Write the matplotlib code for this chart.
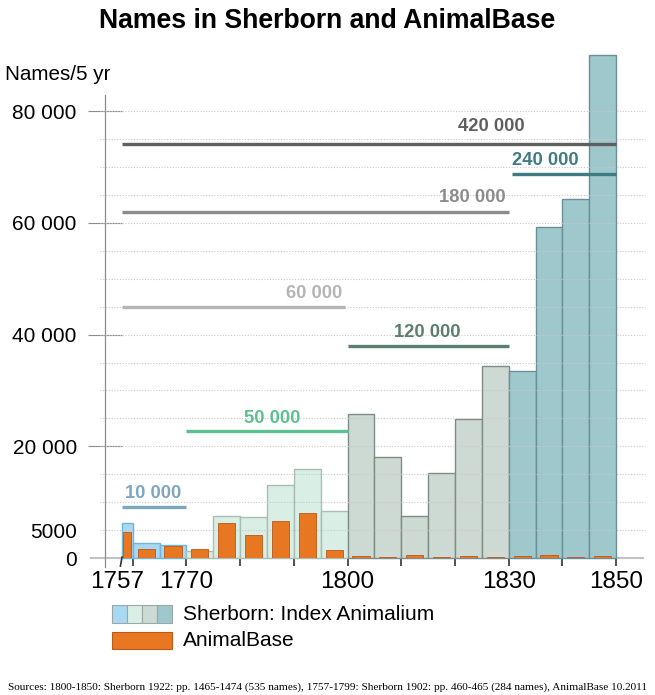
import matplotlib
matplotlib.use("Agg")
import matplotlib.pyplot as plt
import matplotlib.patches as patches

plt.rcParams['font.family'] = ['Liberation Sans', 'DejaVu Sans']

# 5-year bins (first bin is the short 1757 one)
bin_edges = [1758, 1760, 1765, 1770, 1775, 1780, 1785, 1790, 1795, 1800,
             1805, 1810, 1815, 1820, 1825, 1830, 1835, 1840, 1845, 1850]
sherborn = [6200, 2600, 2300, 1300, 7600, 7400, 13100, 16000, 8500,
            25800, 18000, 7600, 15200, 24800, 34400,
            33400, 59300, 64200, 90100]
animalbase = [4600, 1600, 2200, 1700, 6300, 4100, 6600, 8000, 1400,
              300, 250, 450, 250, 300, 250,
              350, 450, 250, 350]

# period colouring of Sherborn bars
period_start = [1757, 1770, 1800, 1830]
period_fill = ['#a8d8f2', '#d9efe5', '#cdd9d3', '#9fc8cd']
period_edge = ['#72b3d8', '#a9bdb3', '#7e8c87', '#6a8f94']

# totals per period, drawn as horizontal bars
tot_labels = ['10 000', '50 000', '60 000', '120 000', '180 000', '240 000', '420 000']
tot_values = [9100, 22700, 44900, 38000, 61900, 68800, 74100]
tot_from = [1758, 1770, 1758, 1800, 1758, 1830.7, 1758]
tot_to = [1770, 1800, 1799.5, 1830, 1830, 1850, 1850]
tot_colors = ['#7ea6c0', '#5cc08f', '#b4b4b4', '#5b7f6c', '#8c8c8c', '#3f7b82', '#5f5f5f']
# label placement (layout only)
tot_label_x = [1763.8, 1785.9, 1793.7, 1814.8, 1823.2, 1836.9, 1826.7]
tot_label_dy = [10, 9.5, 10, 9.5, 11, 9.5, 13]

yticks = [0, 5000, 20000, 40000, 60000, 80000]
ytick_labels = ['0', '5000', '20 000', '40 000', '60 000', '80 000']
xticks = [1757, 1760, 1770, 1780, 1790, 1800, 1810, 1820, 1830, 1840, 1850]
xtick_labels = ['1757', '', '1770', '', '', '1800', '', '', '1830', '', '1850']

W, H = 655, 695
fig = plt.figure(figsize=(W / 100, H / 100), dpi=100)
ax = fig.add_axes([105 / W, (H - 558) / H, 540 / W, (558 - 95) / H])
ax.set_xlim(1754.83, 1855.38)
ax.set_ylim(0, 82900)
for s in ax.spines.values():
    s.set_visible(False)

# grid
grid_vals = list(range(5000, 80001, 5000))
ax.hlines(grid_vals, 1753.9, 1855.3, colors='#c8c8c8', linestyles=(0, (1, 1.5)),
          linewidth=0.8, zorder=3, clip_on=False)

# Sherborn bars
lefts = bin_edges[:-1]
widths = [b - a for a, b in zip(bin_edges[:-1], bin_edges[1:])]
fills, edges = [], []
for x in lefts:
    k = max(i for i, p in enumerate(period_start) if x >= p)
    fills.append(period_fill[k])
    edges.append(period_edge[k])
ax.bar(lefts, sherborn, width=widths, align='edge', color=fills,
       edgecolor=edges, linewidth=1.0, zorder=2, clip_on=False)

# AnimalBase bars
centers = [a + w / 2 for a, w in zip(lefts, widths)]
ab_w = [min(3.2, w * 0.75) for w in widths]
ax.bar(centers, animalbase, width=ab_w, color='#e87722', edgecolor='#b9591a',
       linewidth=0.6, zorder=4)

# period totals
for lab, v, x0, x1, c, lx, dy in zip(tot_labels, tot_values, tot_from, tot_to,
                                      tot_colors, tot_label_x, tot_label_dy):
    ax.plot([x0, x1], [v, v], color=c, lw=2.4, solid_capstyle='butt', zorder=5,
            clip_on=False)
    ax.annotate(lab, (lx, v), xytext=(0, dy), textcoords='offset points',
                ha='center', va='center', color=c, fontsize=13.2,
                fontweight='bold', zorder=6)

# axes lines
ax.plot([1752.2, 1855.0], [0, 0], color='#c2c2c2', lw=1.5, zorder=1, clip_on=False)
ax.axvline(ax.get_xlim()[0], ymin=-0.02, ymax=1, color='#8c8c8c', lw=0.9,
           clip_on=False, zorder=1)
ax.plot([1757.7, 1758.0], [-1450, 150], color='#333333', lw=1.2, clip_on=False)

ax.set_yticks(yticks)
ax.set_yticklabels(ytick_labels)
ax.tick_params(axis='y', direction='inout', length=24.5, width=0.8,
               color='#8c8c8c', labelsize=15, pad=8)
for t in ax.yaxis.get_major_ticks()[:2]:
    t.tick1line.set_visible(False)

ax.set_xticks(xticks)
ax.set_xticklabels(xtick_labels)
ax.tick_params(axis='x', direction='out', length=5.8, width=1.2,
               color='#333333', labelsize=17.5, pad=3.5)
ax.xaxis.get_major_ticks()[0].tick1line.set_visible(False)

# texts
fig.text(0.5, 1 - 21 / H, 'Names in Sherborn and AnimalBase', ha='center',
         va='center', fontsize=19.2, fontweight='bold')
fig.text(5 / W, 1 - 75 / H, 'Names/5 yr', ha='left', va='center', fontsize=14.9)
fig.text(0.5, 1 - 687 / H,
         'Sources: 1800-1850: Sherborn 1922: pp. 1465-1474 (535 names), '
         '1757-1799: Sherborn 1902: pp. 460-465 (284 names), AnimalBase 10.2011',
         ha='center', va='center', fontsize=8.1, family='Liberation Serif')

# legend
sw = 15
for i, (fc, ec) in enumerate(zip(period_fill, period_edge)):
    fig.patches.append(patches.Rectangle(((112 + i * sw) / W, 1 - 623 / H),
                                         sw / W, 18 / H, facecolor=fc,
                                         edgecolor='#9aa8a8', lw=0.8,
                                         transform=fig.transFigure))
fig.patches.append(patches.Rectangle((112 / W, 1 - 649 / H), 60 / W, 17 / H,
                                     facecolor='#e87722', edgecolor='#b9591a',
                                     lw=0.8, transform=fig.transFigure))
fig.text(183 / W, 1 - 614 / H, 'Sherborn: Index Animalium', va='center',
         fontsize=15)
fig.text(183 / W, 1 - 641 / H, 'AnimalBase', va='center', fontsize=15)

fig.savefig('out.png', dpi=100)
